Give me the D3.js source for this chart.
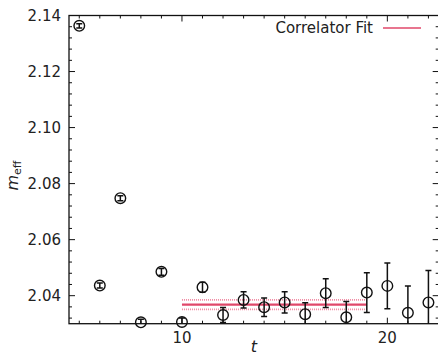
<!DOCTYPE html>
<html>
<head>
<meta charset="utf-8">
<script src="https://cdn.jsdelivr.net/npm/d3@7"></script>
<style>
  html, body { margin: 0; padding: 0; background: #fff; }
  svg { display: block; font-family: "DejaVu Sans", sans-serif; }
</style>
</head>
<body>
<svg id="chart" width="438" height="358"></svg>
<script>
// Effective mass per time slice, with statistical errors
const tValues = [5, 6, 7, 8, 9, 10, 11, 12, 13, 14, 15, 16, 17, 18, 19, 20, 21, 22];
const meffValues = [2.1363, 2.0436, 2.0748, 2.0305, 2.0485, 2.0306, 2.0430, 2.0331, 2.0385, 2.0359,
                    2.0376, 2.0334, 2.0409, 2.0323, 2.0411, 2.0435, 2.0339, 2.0376];
const meffErrors = [0.0008, 0.0009, 0.0009, 0.0011, 0.0012, 0.0014, 0.0018, 0.0027, 0.0029, 0.0033,
                    0.0038, 0.0041, 0.0051, 0.0056, 0.0071, 0.0082, 0.0096, 0.0114];

// Constant correlator fit over the plateau window
const fitRange = [10, 19];
const fitValue = 2.0368;
const fitError = 0.0017;

const xTicks = [10, 20];
const yTicks = [2.04, 2.06, 2.08, 2.10, 2.12, 2.14];
const legendLabel = "Correlator Fit";

const svg = d3.select("#chart");
const padL = 69, padR = 438.7, padT = 15.5, padB = 323.7;

const x = d3.scaleLinear().domain([4.5, 22.5]).range([padL, padR]);
const y = d3.scaleLinear().domain([2.03, 2.14]).range([padB, padT]);

const ink = "#111";
const fitColor = "#e0476a";
const bandColor = "#f08aa2";

svg.append("defs").append("clipPath").attr("id", "plotClip")
  .append("rect").attr("x", padL).attr("y", padT)
  .attr("width", padR - padL).attr("height", padB - padT);

// Fit line and error band edges
const fitG = svg.append("g");
fitG.append("line")
  .attr("x1", x(fitRange[0])).attr("x2", x(fitRange[1]))
  .attr("y1", y(fitValue)).attr("y2", y(fitValue))
  .attr("stroke", fitColor).attr("stroke-width", 2.4);
[fitValue + fitError, fitValue - fitError].forEach(v => {
  fitG.append("line")
    .attr("x1", x(fitRange[0])).attr("x2", x(fitRange[1]))
    .attr("y1", y(v)).attr("y2", y(v))
    .attr("stroke", bandColor).attr("stroke-width", 1.8)
    .attr("stroke-dasharray", "1,1");
});

// Axis ticks on all four sides, pointing inward
function drawTicks() {
  const g = svg.append("g").attr("stroke", ink).attr("stroke-width", 1);
  const xMinor = d3.range(5, 23, 1);
  xMinor.forEach(t => {
    const len = xTicks.includes(t) ? 6 : 3;
    g.append("line").attr("x1", x(t)).attr("x2", x(t)).attr("y1", padB).attr("y2", padB - len);
    g.append("line").attr("x1", x(t)).attr("x2", x(t)).attr("y1", padT).attr("y2", padT + len);
  });
  const yMinor = d3.range(0, 28).map(i => 2.032 + i * 0.004).filter(v => v <= 2.1401);
  yMinor.forEach(v => {
    const major = yTicks.some(m => Math.abs(m - v) < 1e-6);
    const len = major ? 6 : 3;
    g.append("line").attr("x1", padL).attr("x2", padL + len).attr("y1", y(v)).attr("y2", y(v));
    g.append("line").attr("x1", padR).attr("x2", padR - len).attr("y1", y(v)).attr("y2", y(v));
  });
}
drawTicks();

// Frame
svg.append("rect").attr("x", padL).attr("y", padT)
  .attr("width", padR - padL).attr("height", padB - padT)
  .attr("fill", "none").attr("stroke", ink).attr("stroke-width", 1.3);

// Tick labels
const lab = svg.append("g").attr("fill", "#222").attr("font-size", 15);
xTicks.forEach(t => {
  lab.append("text").attr("x", x(t)).attr("y", padB + 19)
    .attr("text-anchor", "middle").text(d3.format("d")(t));
});
yTicks.forEach(v => {
  lab.append("text").attr("x", padL - 8).attr("y", y(v) + 5.5)
    .attr("text-anchor", "end").text(d3.format(".2f")(v));
});

// Axis titles
svg.append("text").attr("x", (padL + padR) / 2).attr("y", 352)
  .attr("text-anchor", "middle").attr("font-size", 16).attr("font-style", "italic")
  .attr("fill", "#222").text("t");
const yl = svg.append("text")
  .attr("transform", `translate(18,${(padT + padB) / 2 + 6}) rotate(-90)`)
  .attr("text-anchor", "middle").attr("fill", "#222").attr("font-size", 16);
yl.append("tspan").attr("font-style", "italic").text("m");
yl.append("tspan").attr("font-size", 11).attr("dy", 3).text("eff");

// Error bars, clipped to the plot area
const data = tValues.map((t, i) => ({ t, m: meffValues[i], e: meffErrors[i] }));
const eb = svg.append("g").attr("clip-path", "url(#plotClip)")
  .attr("stroke", ink).attr("stroke-width", 1.5);
data.forEach(d => {
  eb.append("line").attr("x1", x(d.t)).attr("x2", x(d.t))
    .attr("y1", y(d.m - d.e)).attr("y2", y(d.m + d.e));
  [d.m - d.e, d.m + d.e].forEach(v => {
    eb.append("line").attr("x1", x(d.t) - 3).attr("x2", x(d.t) + 3)
      .attr("y1", y(v)).attr("y2", y(v));
  });
});

// Open circle markers
svg.append("g").selectAll("circle").data(data).join("circle")
  .attr("cx", d => x(d.t)).attr("cy", d => y(d.m)).attr("r", 5.3)
  .attr("fill", "none").attr("stroke", ink).attr("stroke-width", 1.4);

// Legend
svg.append("text").attr("x", 373).attr("y", 33).attr("text-anchor", "end")
  .attr("font-size", 15).attr("fill", "#222").text(legendLabel);
svg.append("line").attr("x1", 383).attr("x2", 421).attr("y1", 28).attr("y2", 28)
  .attr("stroke", fitColor).attr("stroke-width", 1.5);
</script>
</body>
</html>
